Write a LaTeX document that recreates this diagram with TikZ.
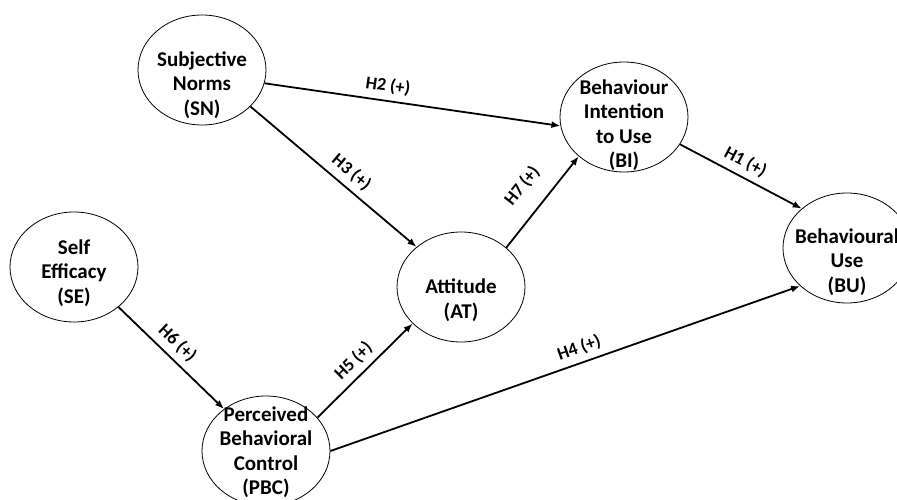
\documentclass[tikz,border=0pt]{standalone}
\usepackage{fontspec}
\setmainfont{Carlito}
\usetikzlibrary{shapes.geometric,arrows.meta}
\begin{document}
\begin{tikzpicture}[x=1pt, y=-1pt,
	construct/.style={ellipse, draw, line width=0.8pt, minimum width=128pt, minimum height=110pt, inner sep=0pt},
	ctext/.style={align=center, font=\fontsize{21}{24.5}\selectfont\bfseries, inner sep=0pt},
	hyp/.style={-{Latex[length=9pt,width=7pt]}, line width=1.8pt},
	hlab/.style={sloped, above=5pt, font=\fontsize{18}{20}\selectfont\bfseries, inner sep=1pt}]
	\useasboundingbox (0,0) rectangle (897,500);
	
	%constructs
	\node[construct] (SN) at (202,70){};
	\node[construct] (BI) at (624,117){};
	\node[construct] (SE) at (74,267){};
	\node[construct] (AT) at (461,287){};
	\node[construct] (BU) at (847,248){};
	\node[construct] (PBC) at (266,451){};
	
	%names inside
	\node[ctext] (SNt) at ([yshift=-15pt]SN.center){Subjective\\Norms\\(SN)};
	\node[ctext] (BIt) at ([yshift=-8pt]BI.center){Behaviour\\Intention\\to Use\\(BI)};
	\node[ctext] (SEt) at ([yshift=-6pt]SE.center){Self\\Efficacy\\(SE)};
	\node[ctext] (ATt) at ([yshift=-13pt]AT.center){Attitude\\(AT)};
	\node[ctext] (BUt) at ([yshift=-14pt]BU.center){Behavioural\\Use\\(BU)};
	\node[ctext] (PBCt) at ([yshift=-1pt]PBC.center){Perceived\\Behavioral\\Control\\(PBC)};
	
	%hypotheses
	\draw[hyp] (SN.-12) -- node[hlab, pos=0.41]{H2 (+)} (BI.188);
	\draw[hyp] (SN.-37) -- node[hlab, pos=0.55]{H3 (+)} (AT.138);
	\draw[hyp] (AT.41) -- node[hlab, pos=0.5, above=11pt]{H7 (+)} (BI.221);
	\draw[hyp] (BI.-26) -- node[hlab, pos=0.48]{H1 (+)} (BU.139);
	\draw[hyp] (SE.-42) -- node[hlab, pos=0.46]{H6 (+)} (PBC.135);
	\draw[hyp] (PBC.33) -- node[hlab, pos=0.49]{H5 (+)} (AT.217);
	\draw[hyp] (PBC.east) -- node[hlab, pos=0.54]{H4 (+)} (BU.219);
\end{tikzpicture}
\end{document}
